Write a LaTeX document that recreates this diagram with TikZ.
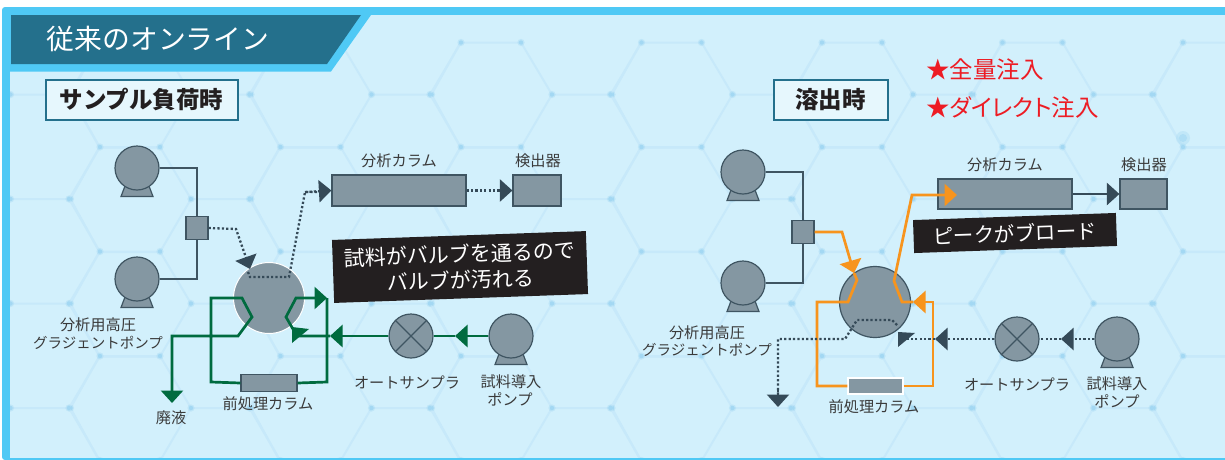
\documentclass[tikz,border=0pt]{standalone}
\usepackage{fontspec}
\setmainfont{Noto Sans CJK JP}
\newfontfamily\jptight[RawFeature=+palt]{Noto Sans CJK JP}
\usetikzlibrary{arrows.meta}
\definecolor{panelblue}{HTML}{D2F0FC}
\definecolor{framecyan}{HTML}{4FC9F5}
\definecolor{titleteal}{HTML}{24708C}
\definecolor{hexline}{HTML}{C7E9FA}
\definecolor{hexdot}{HTML}{A3D8F3}
\definecolor{partgray}{HTML}{8497A2}
\definecolor{partedge}{HTML}{3F5562}
\definecolor{tipdark}{HTML}{354A58}
\definecolor{flowgreen}{HTML}{006B3F}
\definecolor{floworange}{HTML}{F7941D}
\definecolor{textgray}{HTML}{3A3A3A}
\definecolor{starred}{HTML}{ED1C24}
\definecolor{calloutblack}{HTML}{231F20}
\tikzset{
    pumpbase/.pic={\draw[fill=partgray, draw=partedge, line width=1.2pt] (-16,28.5) -- (16,28.5) -- (12,18) -- (-12,18) -- cycle;}
}
\begin{document}
\begin{tikzpicture}[
    x=1pt, y=-1pt,
    pump/.style={circle, draw=partedge, fill=partgray, line width=1.2pt, minimum size=44pt, inner sep=0pt},
    sampler/.style={pump, path picture={\draw[partedge, line width=1.2pt] (path picture bounding box.north west) -- (path picture bounding box.south east) (path picture bounding box.north east) -- (path picture bounding box.south west);}},
    mixer/.style={rectangle, draw=partedge, fill=partgray, line width=1.2pt, minimum width=22pt, minimum height=23pt, inner sep=0pt},
    column/.style={rectangle, draw=partedge, fill=partgray, line width=1.2pt, inner sep=0pt},
    valve/.style={circle, fill=partgray, minimum size=71pt, inner sep=0pt},
    wire/.style={draw=partedge, line width=1.3pt},
    tipflow/.style={-{Triangle[length=12.5pt, width=22pt]}},
    greenflow/.style={draw=flowgreen, line width=2.7pt, line join=miter},
    orangeflow/.style={draw=floworange, line width=2.7pt, line join=miter},
    dotflow/.style={draw=tipdark, line width=2.3pt, dash pattern=on 2.2pt off 2.2pt},
    darktip/.style={-{Triangle[length=12.5pt, width=22pt, color=tipdark]}},
    label/.style={font=\fontsize{15.2}{15.2}\selectfont, text=textgray, inner sep=0pt},
    headbox/.style={rectangle, draw=titleteal, fill=panelblue!55!white, line width=2pt, minimum height=40pt, inner sep=0pt, font=\fontsize{23.5}{23.5}\selectfont\bfseries, text=calloutblack},
    callout/.style={rectangle, fill=calloutblack, text=white, rotate=2, align=center, inner sep=0pt},
    redtext/.style={anchor=west, inner sep=0pt, text=starred, font=\fontsize{23.5}{23.5}\selectfont}
]
\useasboundingbox (0,0) rectangle (1225,459);

% Frame
\fill[white] (0,0) rectangle (1225,459);
\fill[framecyan, rounded corners=3pt] (2,7) rectangle (1235,460);
\fill[panelblue] (10,15) rectangle (1225,457.5);

% Hexagons
\begin{scope}
\clip (10,15) rectangle (1225,457.5);
\foreach \col in {-1,0,...,6}{
  \foreach \row in {-1,0,...,3}{
    \begin{scope}[shift={(\col*180.5,\row*104.5)}]
      \draw[hexline, line width=2pt] (100,147) -- (160,147) -- (191,199) -- (160,252) -- (100,252) -- (69,199) -- cycle
        (191,199) -- (251,199) (251,199) -- (280,147) (251,199) -- (280,252);
      \foreach \px/\py in {100/147,160/147,191/199,251/199,69/199}{
        \fill[hexdot, opacity=.4] (\px,\py) circle (3.6pt);
        \fill[hexdot] (\px,\py) circle (2.2pt);
      }
    \end{scope}
  }
}
\fill[hexdot, opacity=.35] (1183,138) circle (7pt);
\fill[hexdot, opacity=.6] (1183,138) circle (4pt);
\end{scope}

% Title
\fill[framecyan] (2,15) -- (371,15) -- (331,71.5) -- (2,71.5) -- cycle;
\fill[titleteal] (11,15) -- (361,15) -- (327,64) -- (11,64) -- cycle;
\node[text=white, inner sep=0pt, font=\fontsize{27.8}{27.8}\selectfont] (title) at (158,39) {従来のオンライン};

% Headers
\node[headbox, minimum width=192pt] (headload) at (141.5,99.5) {サンプル負荷時};
\node[headbox, minimum width=114pt] (headelute) at (830.5,99.5) {溶出時};
\node[redtext] (redfull) at (926,70) {★全量注入};
\node[redtext] (reddirect) at (926,107) {★\jptight ダイレクト\normalfont 注入};

% Left: nodes
\pic at (137,168) {pumpbase};
\pic at (137,279) {pumpbase};
\pic at (511,336) {pumpbase};
\node[pump] (pumpa) at (137,168) {};
\node[pump] (pumpb) at (137,279) {};
\node[mixer] (mixl) at (197,228) {};
\node[valve, draw=white, line width=1pt] (valvel) at (269,298) {};
\node[column, minimum width=134pt, minimum height=31pt] (anal) at (399,190.5) {};
\node[column, minimum width=48pt, minimum height=31pt] (detl) at (537,190.5) {};
\node[column, minimum width=56pt, minimum height=17pt] (prel) at (269,383) {};
\node[sampler] (autol) at (411,336) {};
\node[pump] (pumpc) at (511,336) {};
\coordinate (inl) at (250,269);
\coordinate (outl) at (289,277);
\coordinate (wastel) at (172,403);

% Left: edges
\draw[wire] (pumpa.east) -- (197,168) -- (mixl.north);
\draw[wire] (pumpb.east) -- (197,279) -- (mixl.south);
\draw[dotflow, darktip] (mixl.east) -- (236,229) -- (inl);
\draw[dotflow] (248,272) -- (250,277) -- (outl) -- (305,192) -- (320,192);
\draw[dotflow, darktip] (305,192) -- (anal.west);
\draw[dotflow, darktip] (anal.east) -- (detl.west);
\draw[greenflow, tipflow] (pumpc.west) -- (455,336);
\draw[greenflow] (455,336) -- (autol.east);
\draw[greenflow, tipflow] (autol.west) -- (330,336);
\draw[greenflow] (330,336) -- (297,336) -- (286,317) -- (296,298) -- (316,298);
\fill[flowgreen] (292,327) -- (309,329) -- (292,343) -- cycle;
\draw[greenflow, tipflow] (296,298) -- (327,298);
\draw[greenflow] (327,298) -- (327,382) -- (prel.east);
\draw[greenflow] (prel.west) -- (211,382) -- (211,298) -- (242,298) -- (252,317) -- (238,336) -- (172,336) -- (172,392);
\draw[greenflow, tipflow] (172,380) -- (wastel);

% Left: labels
\node[label] (labanal) at (399,161) {分析カラム};
\node[label] (labdetl) at (538,161) {検出器};
\node[label] (labgral) at (98,325) {分析用高圧};
\node[label, font=\fontsize{14.5}{14.5}\selectfont] (labgrbl) at (98,343) {グラジェントポンプ};
\node[label] (labprel) at (268,404) {前処理カラム};
\node[label] (labwaste) at (171,418) {廃液};
\node[label] (labautol) at (407,383) {オートサンプラ};
\node[label] (labpumpl) at (511,382) {試料導入};
\node[label] (labpumpm) at (510,399) {ポンプ};
\node[callout, minimum width=254pt, minimum height=63pt, font=\fontsize{21}{26}\selectfont] (notel) at (460,267) {試料がバルブを通るので\\バルブが汚れる};

% Right: nodes
\pic at (743,172) {pumpbase};
\pic at (743,283) {pumpbase};
\pic at (1117,339) {pumpbase};
\node[pump] (pumpd) at (743,172) {};
\node[pump] (pumpe) at (743,283) {};
\node[mixer] (mixr) at (803,232) {};
\node[valve, draw=partedge, line width=1.2pt] (valver) at (875,302) {};
\node[column, minimum width=134pt, minimum height=30pt] (anar) at (1005,194) {};
\node[column, minimum width=47pt, minimum height=30pt] (detr) at (1143.5,194) {};
\node[column, draw=white, minimum width=55pt, minimum height=16pt] (prer) at (875.5,386) {};
\node[sampler] (autor) at (1017,339) {};
\node[pump] (pumpf) at (1117,339) {};
\coordinate (inr) at (854,273);
\coordinate (wasterr) at (778,407);

% Right: edges
\draw[wire] (pumpd.east) -- (803,172) -- (mixr.north);
\draw[wire] (pumpe.east) -- (803,283) -- (mixr.south);
\draw[orangeflow, tipflow] (mixr.east) -- (842,232) -- (inr);
\draw[orangeflow] (inr) -- (857,280) -- (848,302) -- (817,302) -- (817,386) -- (prer.west);
\draw[orangeflow] (prer.east) -- (933,386) -- (933,302) -- (925,302);
\draw[orangeflow, tipflow] (933,302) -- (913,302);
\draw[orangeflow] (913,302) -- (902,302) -- (894,281) -- (912,195) -- (945,195);
\draw[orangeflow, tipflow] (912,195) -- (957,195);
\draw[dotflow] (897,325) -- (892,320) -- (857,320) -- (845,339) -- (778,339) -- (778,396);
\draw[dotflow, darktip] (778,390) -- (wasterr);
\draw[dotflow, darktip] (pumpf.west) -- (1061,339);
\draw[dotflow] (1061,339) -- (autor.east);
\draw[dotflow, darktip] (autor.west) -- (935,339);
\draw[dotflow] (935,339) -- (905,339);
\fill[tipdark] (898,332) -- (915,333) -- (898,347) -- cycle;
\draw[tipdark, line width=2.3pt, tipflow] (anar.east) -- (detr.west);

% Right: labels
\node[label] (labanar) at (1005,165) {分析カラム};
\node[label] (labdetr) at (1144,165) {検出器};
\node[label] (labgrar) at (707,333) {分析用高圧};
\node[label, font=\fontsize{14.5}{14.5}\selectfont] (labgrbr) at (707,350) {グラジェントポンプ};
\node[label] (labprer) at (874,407) {前処理カラム};
\node[label] (labautor) at (1017,385) {オートサンプラ};
\node[label] (labpumpr) at (1117,384) {試料導入};
\node[label] (labpumps) at (1117,401) {ポンプ};
\node[callout, minimum width=203pt, minimum height=33pt, font=\fontsize{20.5}{26}\selectfont] (noter) at (1015,233) {ピークがブロード};
\end{tikzpicture}
\end{document}
